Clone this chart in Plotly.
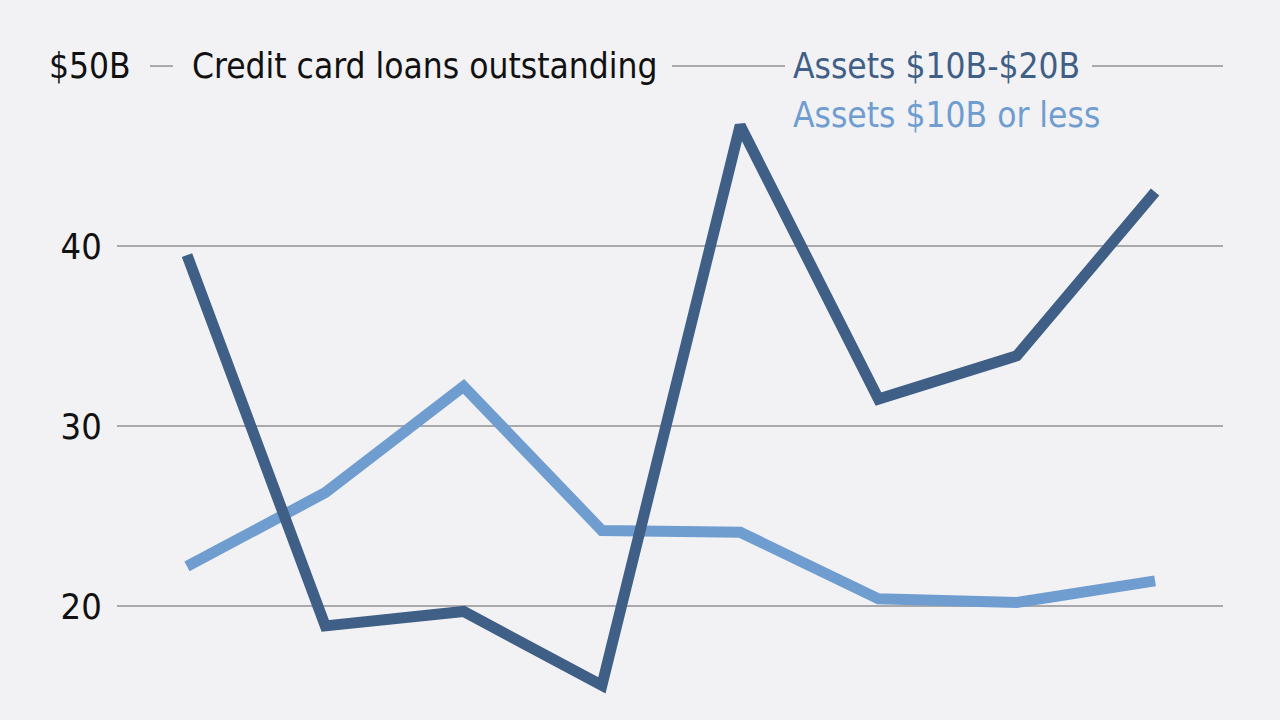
import plotly.graph_objects as go

periods = [0, 1, 2, 3, 4, 5, 6, 7]
assets_10_20 = [39.5, 18.9, 19.7, 15.6, 46.7, 31.5, 33.9, 43.0]
assets_10_less = [22.2, 26.3, 32.2, 24.2, 24.1, 20.4, 20.2, 21.4]
tick_vals = [20, 30, 40]
tick_text = ["20", "30", "40"]
top_value = 50

BG = "#f2f2f4"
DARK = "#3f5f86"
LIGHT = "#6f9dd0"
GRID = "#a9a9ab"
FONT = "Liberation Sans Narrow, DejaVu Sans Condensed, Roboto, sans-serif"
SIZE = 35

PLOT_L, PLOT_R = 117, 1223


def px(x):
    return (x - PLOT_L) / (PLOT_R - PLOT_L)


fig = go.Figure()
fig.add_trace(go.Scatter(x=periods, y=assets_10_less, mode="lines",
                         line=dict(color=LIGHT, width=11), name="Assets $10B or less"))
fig.add_trace(go.Scatter(x=periods, y=assets_10_20, mode="lines",
                         line=dict(color=DARK, width=11), name="Assets $10B-$20B"))

fig.update_layout(
    width=1280, height=720,
    paper_bgcolor=BG, plot_bgcolor=BG,
    margin=dict(l=PLOT_L, r=1280 - PLOT_R, t=61, b=0),
    showlegend=False,
    font=dict(family=FONT, size=SIZE, color="#111111"),
    xaxis=dict(range=[-0.506, 7.491], showgrid=False, zeroline=False,
               showticklabels=False, ticks=""),
    yaxis=dict(range=[13.67, 50.28], tickvals=tick_vals, ticktext=tick_text,
               showgrid=True, gridcolor=GRID, gridwidth=2, zeroline=False,
               ticks="outside", ticklen=7, tickcolor=BG,
               tickfont=dict(family=FONT, size=36, color="#111111")),
)

# top gridline, broken around the header texts
for a, b in [(150, 173), (672, 785), (1092, 1223)]:
    fig.add_shape(type="line", xref="paper", yref="y", x0=px(a), x1=px(b),
                  y0=top_value, y1=top_value, line=dict(color=GRID, width=2), layer="below")

ann = [
    dict(text="$50B", x=px(133), y=top_value, xanchor="right"),
    dict(text="Credit card loans outstanding", x=px(190), y=top_value, xanchor="left"),
    dict(text="Assets $10B-$20B", x=px(791), y=top_value, xanchor="left",
         font=dict(family=FONT, size=SIZE, color=DARK)),
    dict(text="Assets $10B or less", x=px(791), y=47.28, xanchor="left",
         font=dict(family=FONT, size=SIZE, color=LIGHT)),
]
for a in ann:
    a.update(xref="paper", yref="y", yanchor="middle", showarrow=False)
    a.setdefault("font", dict(family=FONT, size=SIZE, color="#111111"))
    fig.add_annotation(**a)

fig.write_html(
    "out.html",
    config={"displayModeBar": False},
    post_script="document.body.style.margin='0';document.body.style.background='%s';" % BG,
)
